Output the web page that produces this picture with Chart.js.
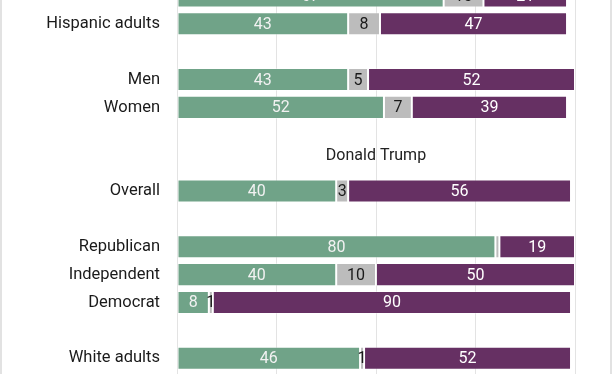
<!DOCTYPE html>
<html>
<head>
<meta charset="utf-8">
<script src="https://cdn.jsdelivr.net/npm/chart.js@4.4.1/dist/chart.umd.min.js"></script>
<style>
  html, body { margin: 0; padding: 0; background: #fff; overflow: hidden; }
  #frame { position: relative; width: 612px; height: 374px; overflow: hidden; }
  #frame:after { content: ''; position: absolute; left: 0; top: 0; right: 0; bottom: 0;
                 border-left: 2px solid #e2e2e2; border-right: 2px solid #e2e2e2; pointer-events: none; }
  #barChart { position: absolute; left: 0; top: -18px; }
</style>
</head>
<body>
<div id="frame">
  <canvas id="barChart" width="612" height="418"></canvas>
</div>
<script>
// rows top to bottom, '' = spacer row
const categories = ['Black adults', 'Hispanic adults', '', 'Men', 'Women', '', '', 'Overall', '',
                    'Republican', 'Independent', 'Democrat', '', 'White adults', ''];
const panelTitle = 'Donald Trump';
const panelTitleRow = 6;

const greenVals  = [67, 43, null, 43, 52, null, null, 40, null, 80, 40, 8, null, 46, null];
const grayVals   = [10, 8, null, 5, 7, null, null, 3, null, 1, 10, 1, null, 1, null];
const purpleVals = [21, 47, null, 52, 39, null, null, 56, null, 19, 50, 90, null, 52, null];
// gray value labels that are not printed in the original
const grayHidden = ['Republican'];

const xTicks = [0, 25, 50, 75, 100];

const ctx = document.getElementById('barChart').getContext('2d');
Chart.defaults.font.family = 'Roboto, "Noto Sans", sans-serif';

// value labels inside the segments + the panel heading
const labelsPlugin = {
    id: 'segLabels',
    afterDatasetsDraw(chart) {
        const c = chart.ctx;
        c.save();
        c.font = '16px Roboto';
        c.textAlign = 'center';
        c.textBaseline = 'middle';
        chart.data.datasets.forEach(function (ds, i) {
            const meta = chart.getDatasetMeta(i);
            meta.data.forEach(function (bar, j) {
                const v = ds.data[j];
                if (v == null) return;
                if (i === 1 && grayHidden.indexOf(categories[j]) >= 0) return;
                c.fillStyle = ds.labelColor;
                c.fillText(String(v), (bar.x + bar.base) / 2, bar.y + 1);
            });
        });
        // heading row
        const y = chart.scales.y.getPixelForValue(panelTitleRow) - 7;
        const x = (chart.chartArea.left + chart.chartArea.right) / 2;
        c.font = '16px Roboto';
        c.fillStyle = '#222';
        c.fillText(panelTitle, x, y);
        c.restore();
    }
};

new Chart(ctx, {
    type: 'bar',
    data: {
        labels: categories,
        datasets: [
            { label: 'Green', data: greenVals, backgroundColor: '#70a388', labelColor: '#f2f2f2' },
            { label: 'Gray', data: grayVals, backgroundColor: '#bcbcbc', labelColor: '#1a1a1a' },
            { label: 'Purple', data: purpleVals, backgroundColor: '#663063', labelColor: '#ffffff' }
        ].map(function (d) {
            d.borderColor = 'rgba(255,255,255,0.35)';
            d.borderWidth = 1;
            d.borderSkipped = false;
            d.barPercentage = 0.83;
            d.categoryPercentage = 1;
            return d;
        })
    },
    options: {
        indexAxis: 'y',
        responsive: false,
        animation: false,
        layout: { padding: { left: 0, right: 37, top: 0, bottom: 0 } },
        plugins: {
            legend: { display: false },
            tooltip: { enabled: false }
        },
        scales: {
            x: {
                stacked: true,
                min: 0,
                max: 100,
                afterBuildTicks: function (s) { s.ticks = xTicks.map(function (v) { return { value: v }; }); },
                ticks: { display: false },
                grid: { color: '#e3e3e3', lineWidth: 1, drawTicks: false },
                border: { display: false },
                afterFit: function (s) { s.height = 0; }
            },
            y: {
                stacked: true,
                grid: { display: false, drawTicks: false },
                border: { display: false },
                ticks: { color: '#1a1a1a', font: { size: 16.5 }, padding: 17, autoSkip: false },
                afterFit: function (s) { s.width = 177; s.paddingTop = 0; s.paddingBottom = 0; }
            }
        }
    },
    plugins: [labelsPlugin]
});
</script>
</body>
</html>
